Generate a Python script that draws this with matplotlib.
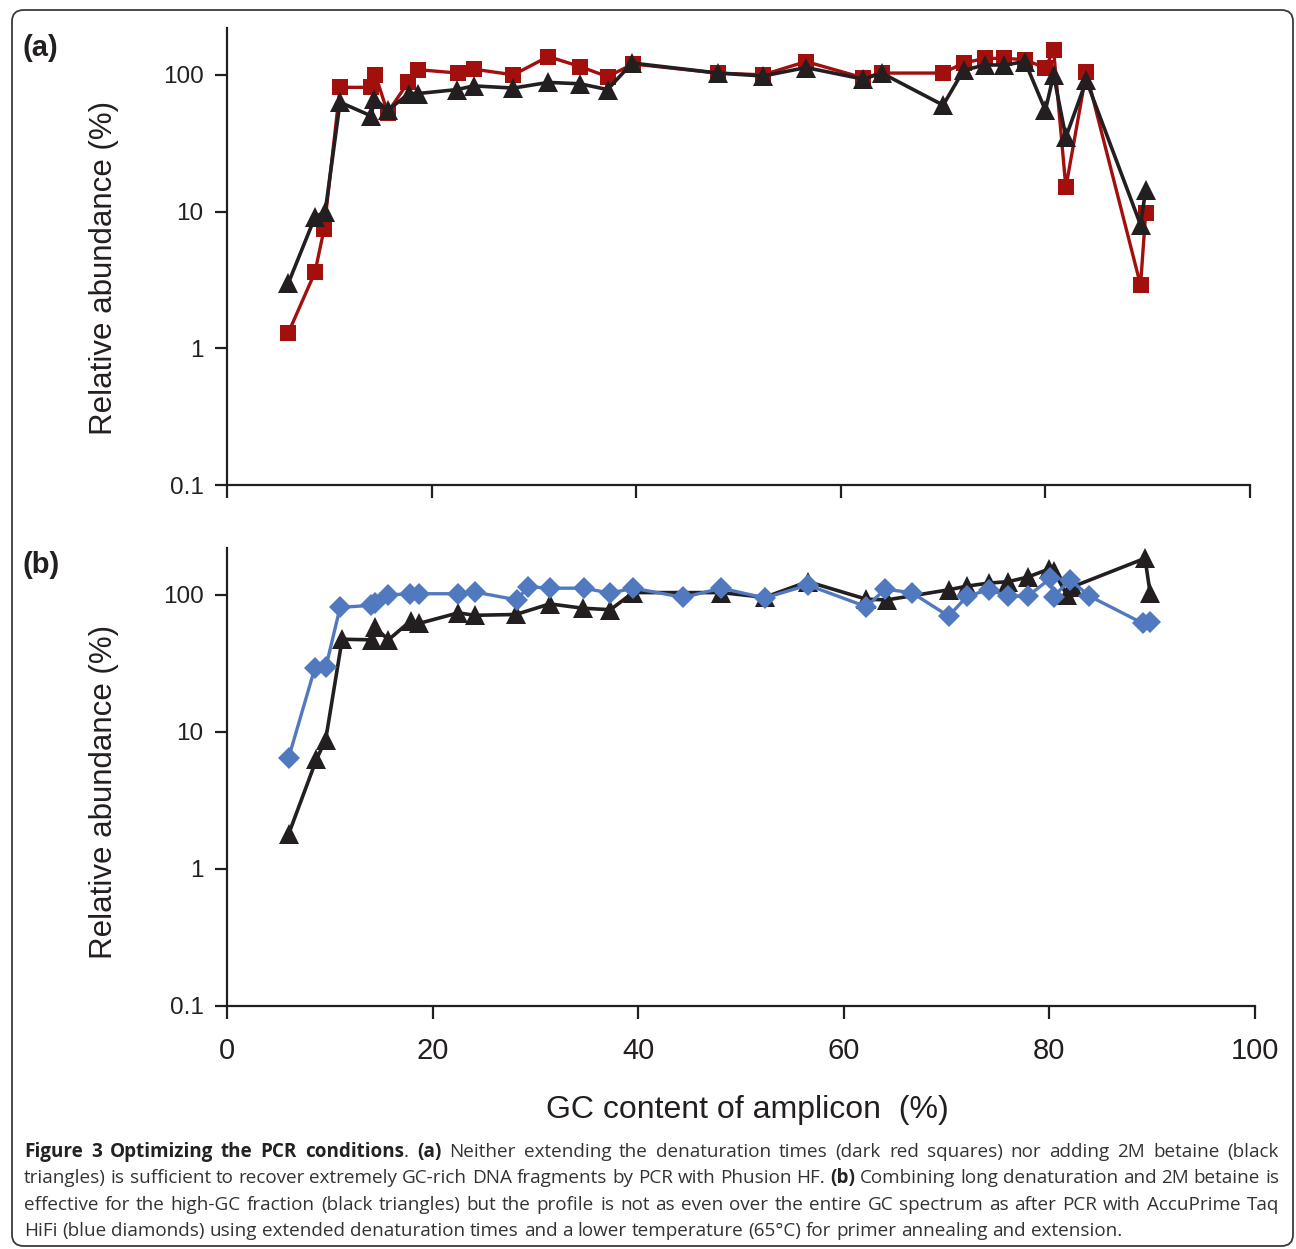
import matplotlib
matplotlib.use("Agg")
import matplotlib.pyplot as plt
from matplotlib import font_manager
from matplotlib.patches import FancyBboxPatch

# ---------------- data ----------------
# Panel (a): dark red squares (long denaturation), black triangles (2M betaine)
a_red_x = [6.0, 8.6, 9.5, 11.05, 14.1, 14.5, 15.7, 17.7, 18.7, 22.6, 24.1, 28.0, 31.4, 34.5,
           37.2, 39.7, 48.0, 52.4, 56.6, 62.2, 64.0, 70.0, 72.0, 74.1, 76.0, 78.0, 80.0, 80.8,
           82.0, 84.0, 89.3, 89.8]
a_red_y = [1.3, 3.6, 7.5, 81, 81, 100, 53, 88, 109, 103, 110, 100, 136, 115,
           97, 120, 103, 100, 125, 95, 103, 103, 122, 132, 132, 129, 112, 152,
           15, 104, 2.9, 9.7]
a_blk_x = [6.0, 8.6, 9.6, 11.05, 14.1, 14.4, 15.7, 17.8, 18.7, 22.5, 24.1, 28.0, 31.4, 34.5,
           37.2, 39.6, 48.0, 52.4, 56.6, 62.2, 64.0, 70.0, 72.0, 74.1, 76.0, 78.0, 80.0, 80.8,
           82.0, 84.0, 89.3, 89.8]
a_blk_y = [3.0, 9.1, 10, 63, 50, 67, 55, 73, 73, 78, 83, 80, 88, 86,
           78, 122, 103, 98, 113, 93, 103, 60, 108, 118, 118, 125, 55, 100,
           35, 91, 8.0, 14.3]

# Panel (b): blue diamonds (AccuPrime Taq HiFi), black triangles (long denat. + betaine)
b_blu_x = [6.0, 8.56, 9.63, 11.0, 14.0, 14.4, 15.7, 17.8, 18.7, 22.5, 24.1, 28.2, 29.3, 31.4,
           34.7, 37.3, 39.5, 44.4, 48.1, 52.3, 56.5, 62.2, 64.0, 66.6, 70.2, 72.0, 74.1, 76.0,
           77.9, 80.1, 80.4, 82.0, 83.9, 89.1, 89.8]
b_blu_y = [6.5, 29.5, 30, 81, 84, 88, 100, 102, 102, 102, 105, 92, 115, 112,
           112, 103, 112, 96, 112, 95, 118, 82, 110, 104, 70, 98, 109, 98,
           98, 132, 97, 129, 98, 62, 63]
b_blk_x = [6.0, 8.7, 9.6, 11.2, 14.1, 14.4, 15.7, 17.9, 18.7, 22.5, 24.1, 28.1, 31.4, 34.6,
           37.3, 39.5, 48.1, 52.3, 56.5, 62.2, 64.2, 70.2, 72.0, 74.1, 76.0, 77.9, 80.0, 80.4,
           81.7, 82.3, 89.3, 89.8]
b_blk_y = [1.8, 6.3, 8.8, 47.5, 47, 58, 47, 65, 62, 74, 71, 72, 86, 80,
           78, 104, 104, 96, 125, 93, 92, 109, 116, 122, 125, 135, 155, 150,
           100, 115, 185, 103]

x_ticks = [0, 20, 40, 60, 80, 100]
y_ticks = [0.1, 1, 10, 100]
y_ticklabels = ["0.1", "1", "10", "100"]

caption_lines = [
    "**Figure 3 Optimizing the PCR conditions**. **(a)** Neither extending the denaturation times (dark red squares) nor adding 2M betaine (black",
    "triangles) is sufficient to recover extremely GC-rich DNA fragments by PCR with Phusion HF. **(b)** Combining long denaturation and 2M betaine is",
    "effective for the high-GC fraction (black triangles) but the profile is not as even over the entire GC spectrum as after PCR with AccuPrime Taq",
    "HiFi (blue diamonds) using extended denaturation times and a lower temperature (65°C) for primer annealing and extension.",
]

# ---------------- style ----------------
W, H = 1296, 1249
DARK = "#231f20"
RED = "#a20f0d"
BLUE = "#5179bf"

avail = {f.name for f in font_manager.fontManager.ttflist}
narrow = ["Liberation Sans Narrow", "Liberation Sans", "DejaVu Sans"] if "Liberation Sans Narrow" in avail else ["Liberation Sans", "DejaVu Sans"]
sans = ["Liberation Sans", "DejaVu Sans"]
cap_font = ["Open Sans", "DejaVu Sans"]

plt.rcParams["font.family"] = sans

fig = plt.figure(figsize=(W / 100, H / 100), dpi=100)
fig.patch.set_facecolor("white")


def px(x, y):
    return x / W, 1 - y / H


def make_axes(left, top, right, bottom):
    ax = fig.add_axes([left / W, 1 - bottom / H, (right - left) / W, (bottom - top) / H])
    ax.set_yscale("log")
    ax.set_xlim(0, 100)
    ax.set_ylim(0.1, 220)
    for s in ("top", "right"):
        ax.spines[s].set_visible(False)
    for s in ("left", "bottom"):
        ax.spines[s].set_color(DARK)
        ax.spines[s].set_linewidth(1.6)
    ax.set_xticks(x_ticks)
    ax.set_yticks(y_ticks)
    ax.set_yticklabels(y_ticklabels)
    ax.yaxis.set_minor_locator(matplotlib.ticker.NullLocator())
    ax.tick_params(axis="both", which="major", direction="out", length=9, width=1.6, color=DARK)
    ax.tick_params(axis="y", labelsize=17.5, pad=8, labelcolor=DARK)
    ax.patch.set_alpha(0)
    return ax


# Panel (a)
ax1 = make_axes(227, 28, 1250, 485)
ax1.tick_params(axis="x", labelbottom=False)
ax1.plot(a_red_x, a_red_y, color=RED, lw=2.4, marker="s", ms=12, mew=0, zorder=2, clip_on=False)
ax1.plot(a_blk_x, a_blk_y, color=DARK, lw=2.6, marker="^", ms=14, mew=0, zorder=3, clip_on=False)

# Panel (b)
ax2 = make_axes(227, 548, 1255, 1006)
ax2.plot(b_blk_x, b_blk_y, color=DARK, lw=2.6, marker="^", ms=14, mew=0, zorder=2, clip_on=False)
ax2.plot(b_blu_x, b_blu_y, color=BLUE, lw=2.4, marker="D", ms=11.5, mew=0, zorder=3, clip_on=False)
for lab in ax2.get_xticklabels():
    lab.set_fontfamily(narrow)
ax2.tick_params(axis="x", labelsize=21, pad=13, labelcolor=DARK)

# axis titles and panel labels
for (x, y) in [(104, 268), (104, 792)]:
    fig.text(*px(x, y), "Relative abundance (%)", rotation=90, ha="center", va="center",
             fontsize=22.5, color=DARK, family=sans)
fig.text(*px(747, 1110), "GC content of amplicon  (%)", ha="center", va="center",
         fontsize=23, color=DARK, family=narrow)
fig.text(*px(23, 48), "(a)", ha="left", va="center", fontsize=21, weight="bold", color=DARK, family=sans)
fig.text(*px(23, 565), "(b)", ha="left", va="center", fontsize=21, weight="bold", color=DARK, family=sans)

# outer rounded frame
frame = FancyBboxPatch(px(12, 1246), (1293 - 12) / W, (1246 - 10) / H,
                       boxstyle="round,pad=0,rounding_size=0.009", transform=fig.transFigure,
                       facecolor="none", edgecolor="#3a3a3a", linewidth=1.3)
fig.patches.append(frame)


# ---------------- caption (justified) ----------------
def parse(s):
    words = [[]]
    for i, seg in enumerate(s.split("**")):
        bold = i % 2 == 1
        parts = seg.split(" ")
        for j, p in enumerate(parts):
            if j > 0:
                words.append([])
            if p:
                words[-1].append((p, bold))
    return [w for w in words if w]


renderer = fig.canvas.get_renderer()
CAP_COL = "#333333"
cap_left, cap_right = 24, 1279
line_y = [1152, 1178, 1205, 1231]


def seg_width(text, bold, fs):
    t = fig.text(0, 0, text, fontsize=fs, weight="bold" if bold else "normal", family=cap_font)
    w = t.get_window_extent(renderer).width
    t.remove()
    return w


def natural_width(words, fs, space):
    tot = sum(seg_width(s, b, fs) for w in words for (s, b) in w)
    return tot + space * (len(words) - 1)


base_fs = 12.0
sp0 = seg_width("a a", False, base_fs) - seg_width("aa", False, base_fs)
parsed = [parse(l) for l in caption_lines]
nat = max(natural_width(p, base_fs, sp0) for p in parsed[:3])
fs = base_fs * (cap_right - cap_left) / nat * 0.995
space = seg_width("a a", False, fs) - seg_width("aa", False, fs)

for li, words in enumerate(parsed):
    widths = [[seg_width(s, b, fs) for (s, b) in w] for w in words]
    total = sum(sum(ws) for ws in widths)
    if li < len(parsed) - 1:
        gap = (cap_right - cap_left - total) / (len(words) - 1)
    else:
        gap = space
    x = cap_left
    for w, ws in zip(words, widths):
        for (s, b), sw in zip(w, ws):
            fig.text(*px(x, line_y[li]), s, fontsize=fs, weight="bold" if b else "normal",
                     family=cap_font, color=CAP_COL if not b else "#222222", ha="left", va="center")
            x += sw
        x += gap

fig.savefig("out.png", dpi=100)
